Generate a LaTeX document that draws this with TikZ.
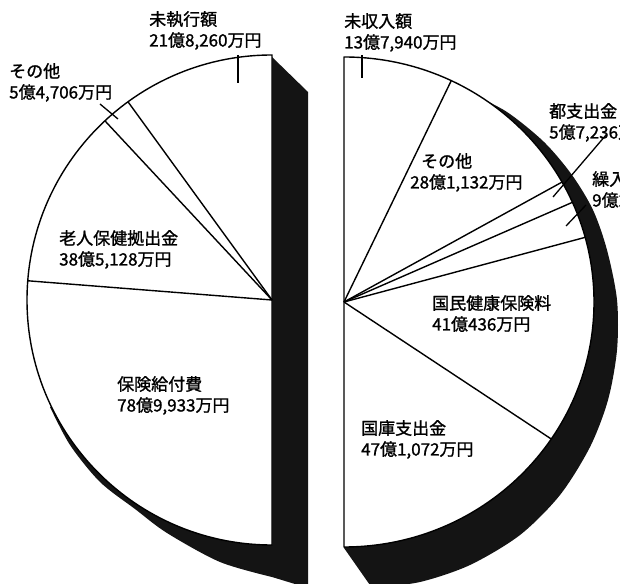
\documentclass[tikz,border=0pt]{standalone}
\usepackage{fontspec}
\newfontfamily\jp[FakeBold=1.2]{Noto Sans CJK JP}
\begin{document}
\begin{tikzpicture}[x=1pt,y=1pt,
  lbl/.style={font=\jp\fontsize{17}{21}\selectfont, align=left, anchor=north west, inner sep=0pt},
  pieline/.style={line width=1.4pt, line join=round},
  leader/.style={line width=1.3pt},
  shade/.style={fill=black!92}]
\useasboundingbox (0,0) rectangle (620,583);
\clip (0,0) rectangle (620,583);
\fill[white] (0,0) rectangle (620,583);

% ---------- left half (expenditure) ----------
\coordinate (Lc) at (272,283);
\fill[shade] (272,526) -- (308,491) -- (308,-5) -- plot[smooth] coordinates {(272,6) (220,21) (167,50) (135,74) (100,101) (70,138) (50,176)} -- (Lc) -- cycle;
\filldraw[pieline, fill=white] (Lc) -- (272,528) arc[start angle=90, end angle=270, radius=245] -- cycle;
\draw[pieline] (Lc) -- ++(175.5:245);
\draw[pieline] (Lc) -- ++(133:245);
\draw[pieline] (Lc) -- ++(126:245);

\node[lbl] (lA) at (149,572) {未執行額\\21億8,260万円};
\node[lbl] (lB) at (9,520) {その他\\5億4,706万円};
\node[lbl] (lC) at (59,353) {老人保健拠出金\\38億5,128万円};
\node[lbl] (lD) at (117,207) {保険給付費\\78億9,933万円};

\coordinate (tA1) at (238,528); \coordinate (tA2) at (238,500);
\draw[leader] (tA1) -- (tA2);
\coordinate (tB1) at (100,479); \coordinate (tB2) at (118,464);
\draw[leader] (tB1) -- (tB2);

% ---------- right half (revenue) ----------
\coordinate (Rc) at (344,281);
\fill[shade] (344,35) -- plot[smooth] coordinates {(372,-5) (420,1) (470,18) (520,48) (560,88) (590,136) (608,183) (617,233) (617,283) (607,333) (593,373) (572,408) (544,441) (507,471) (470,490)} -- (Rc) -- cycle;
\filldraw[pieline, fill=white] (Rc) -- (344,526) arc[start angle=90, end angle=-90, x radius=250, y radius=245] -- cycle;
\draw[pieline] (Rc) -- ++(64.6:250 and 245);
\draw[pieline] (Rc) -- ++(29.3:250 and 245);
\draw[pieline] (Rc) -- ++(24:250 and 245);
\draw[pieline] (Rc) -- ++(15.3:250 and 245);
\draw[pieline] (Rc) -- ++(-34:250 and 245);

\node[lbl] (rA) at (344,570) {未収入額\\13億7,940万円};
\node[lbl] (rB) at (549,480) {都支出金\\5億7,236万円};
\node[lbl] (rC) at (592,412) {繰入金\\9億211万円};
\node[lbl] (rD) at (410,430) {\hspace*{11pt}その他\\28億1,132万円};
\node[lbl] (rE) at (432,288) {国民健康保険料\\41億436万円};
\node[lbl] (rF) at (361,163) {国庫支出金\\47億1,072万円};

\coordinate (tR1) at (362,528); \coordinate (tR2) at (362,505);
\draw[leader] (tR1) -- (tR2);
\coordinate (tS1) at (606,448); \coordinate (tS2) at (553,386);
\draw[leader] (tS1) -- (tS2);
\coordinate (tT1) at (586,378); \coordinate (tT2) at (566,357);
\draw[leader] (tT1) -- (tT2);
\end{tikzpicture}
\end{document}
